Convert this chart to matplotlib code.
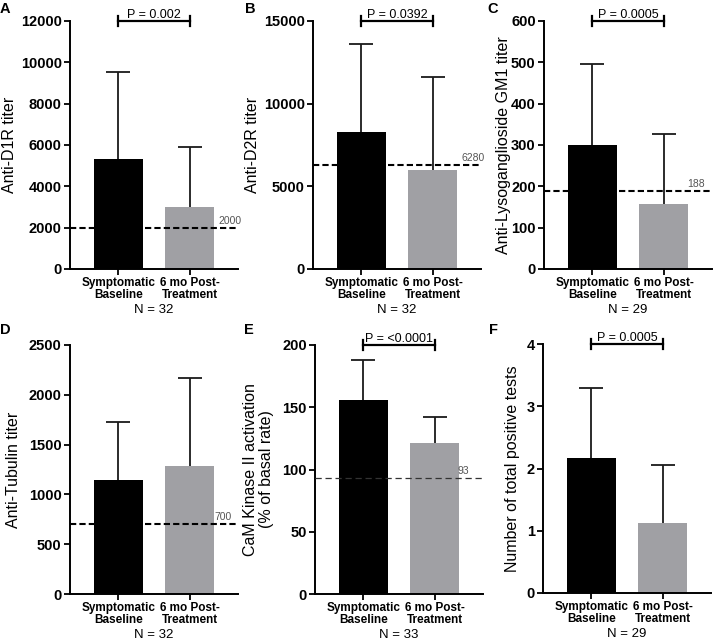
import matplotlib
matplotlib.use("Agg")
import matplotlib.pyplot as plt
from matplotlib import font_manager

plt.rcParams['font.family'] = ['Liberation Sans', 'DejaVu Sans']

# ---- data ----
categorias = ["Symptomatic\nBaseline", "6 mo Post-\nTreatment"]
letras = ["A", "B", "C", "D", "E", "F"]
ylabels = ["Anti-D1R titer", "Anti-D2R titer", "Anti-Lysoganglioside GM1 titer",
           "Anti-Tubulin titer", "CaM Kinase II activation\n(% of basal rate)",
           "Number of total positive tests"]
medias = [[5330, 2980], [8290, 5980], [299, 157],
          [1145, 1288], [155.6, 121.5], [2.17, 1.13]]
error_sup = [[9540, 5890], [13600, 11600], [496, 327],
             [1727, 2169], [188, 142], [3.30, 2.05]]
ymax = [12000, 15000, 600, 2500, 200, 4]
yticks = [[0, 2000, 4000, 6000, 8000, 10000, 12000],
          [0, 5000, 10000, 15000],
          [0, 100, 200, 300, 400, 500, 600],
          [0, 500, 1000, 1500, 2000, 2500],
          [0, 50, 100, 150, 200],
          [0, 1, 2, 3, 4]]
umbral = [2000, 6280, 188, 700, 93, None]
umbral_texto = ["2000", "6280", "188", "700", "93", None]
p_valores = ["P = 0.002", "P = 0.0392", "P = 0.0005", None, "P = <0.0001", "P = 0.0005"]
n_texto = ["N = 32", "N = 32", "N = 29", "N = 32", "N = 33", "N = 29"]

# ---- layout (pixels of the 717x642 image) ----
W, H = 717, 642
cajas = [(70, 21, 269), (313, 21, 269), (544, 21, 269),
         (70, 345, 594), (315, 345, 594), (543, 344, 593)]
ancho_px = 168
pos_letra = [(5, 9), (250, 9), (493, 9), (5, 330), (249, 330), (493, 330)]
pos_umbral = [1.02, 1.02, 0.96, 0.96, 0.92, None]
pos_ylabel = [-0.315, -0.315, -0.196, -0.29, -0.244, -0.137]

nombres = {f.name for f in font_manager.fontManager.ttflist}
fuente_cat = ['Liberation Sans Narrow', 'Liberation Sans'] if 'Liberation Sans Narrow' in nombres \
    else ['Liberation Sans']
tam_cat = 10.5 if 'Liberation Sans Narrow' in nombres else 8.5

negro = "#000000"
gris = "#a0a0a4"

fig = plt.figure(figsize=(W / 100, H / 100), dpi=100)

for i in range(6):
    x0, ytop, ybot = cajas[i]
    ax = fig.add_axes([x0 / W, 1 - ybot / H, ancho_px / W, (ybot - ytop) / H])

    xs = [0, 1]
    errs = [[0, 0], [error_sup[i][0] - medias[i][0], error_sup[i][1] - medias[i][1]]]
    ax.bar(xs, medias[i], width=0.68, color=[negro, gris], linewidth=0, zorder=2)
    _, caps, _ = ax.errorbar(xs, medias[i], yerr=errs, fmt="none", ecolor="#1a1a1a",
                             elinewidth=1.3, capsize=8.5, capthick=1.3, zorder=1)
    caps[0].set_visible(False)  # sin tapa inferior

    if umbral[i] is not None:
        if i == 4:
            ax.axhline(umbral[i], color="#333333", lw=0.9, ls=(0, (5, 3)), zorder=3, clip_on=False)
        else:
            ax.axhline(umbral[i], color="black", lw=1.5, ls=(0, (3, 1.5)), zorder=3, clip_on=False)
        ax.annotate(umbral_texto[i], xy=(pos_umbral[i], umbral[i]),
                    xycoords=("axes fraction", "data"), xytext=(0, 1.5),
                    textcoords="offset points", ha="right", va="bottom",
                    fontsize=7.5, color="#555555")

    if p_valores[i] is not None:
        yb = ymax[i]
        d = 0.022 * ymax[i]
        ax.plot([0, 1], [yb, yb], color="black", lw=1.6, clip_on=False, zorder=4)
        ax.plot([0, 0], [yb - d, yb + d], color="black", lw=1.6, clip_on=False)
        ax.plot([1, 1], [yb - d, yb + d], color="black", lw=1.6, clip_on=False)
        ax.annotate(p_valores[i], xy=(0.5, yb), xycoords="data", xytext=(0, 0),
                    textcoords="offset points", ha="center", va="bottom", fontsize=9)

    ax.set_xlim(-0.68, 1.68)
    ax.set_ylim(0, ymax[i])
    ax.set_yticks(yticks[i])
    ax.set_xticks(xs)
    ax.set_xticklabels(categorias, fontsize=tam_cat, fontweight="bold",
                       linespacing=1.0, family=fuente_cat)
    for lab in ax.get_yticklabels():
        lab.set_fontweight("bold")
        lab.set_fontsize(10.5)
    ax.tick_params(axis="both", direction="out", length=4.5, width=1.3, pad=1.5)
    ax.set_ylabel(ylabels[i], fontsize=11.5, linespacing=1.1)
    ax.yaxis.set_label_coords(pos_ylabel[i], 0.5)
    for s in ["top", "right"]:
        ax.spines[s].set_visible(False)
    for s in ["left", "bottom"]:
        ax.spines[s].set_linewidth(1.4)

    ax.annotate(n_texto[i], xy=(0.5, 0), xycoords=("data", "axes fraction"),
                xytext=(0, -29.5), textcoords="offset points",
                ha="center", va="center", fontsize=9.5)

    lx, ly = pos_letra[i]
    fig.text(lx / W, 1 - ly / H, letras[i], fontsize=10.5, fontweight="bold",
             ha="center", va="center")

fig.savefig("out.png", dpi=100)
